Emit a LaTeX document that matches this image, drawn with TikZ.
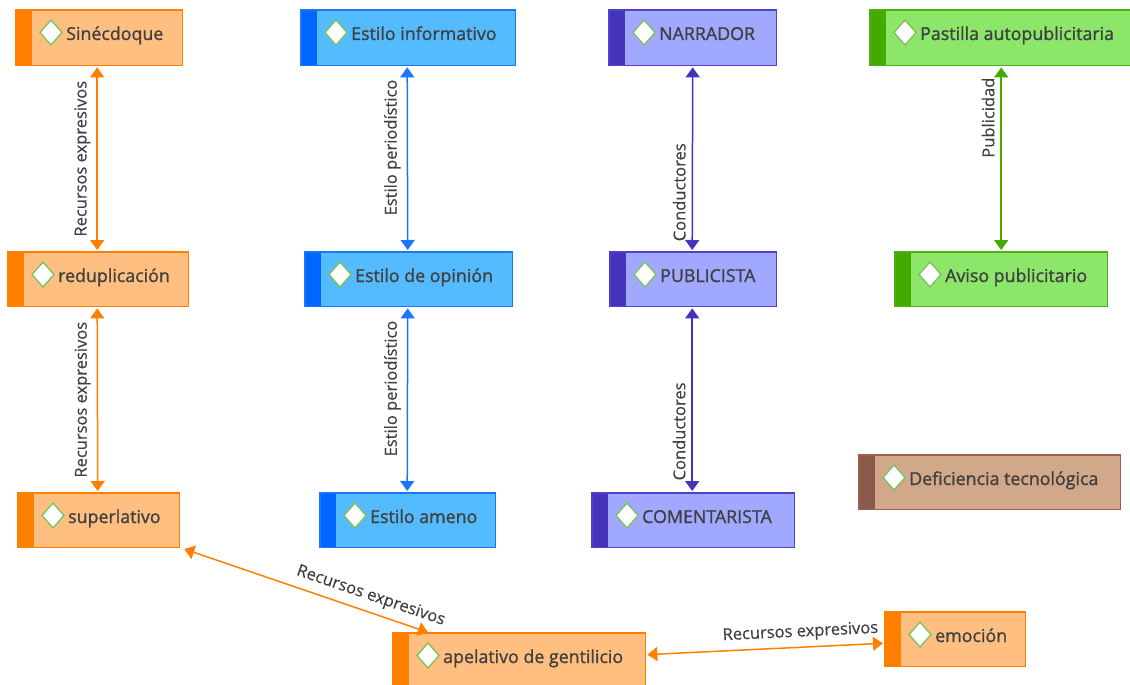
\documentclass[tikz,border=0pt]{standalone}
\usepackage{fontspec}
\setmainfont{Open Sans}
\newfontfamily\boxfont[FakeBold=1.2]{Open Sans}
\newfontfamily\lblfont[FakeBold=0.4]{Open Sans}
\usetikzlibrary{arrows.meta}
\definecolor{txt}{HTML}{404040}
\definecolor{oBar}{HTML}{FF7F00}
\definecolor{oFill}{HTML}{FFBF80}
\definecolor{bBar}{HTML}{0066FF}
\definecolor{bFill}{HTML}{55BBFF}
\definecolor{bLine}{HTML}{1A75FF}
\definecolor{pBar}{HTML}{4433BB}
\definecolor{pFill}{HTML}{A0A8FF}
\definecolor{pLine}{HTML}{5040CC}
\definecolor{gBar}{HTML}{44AA00}
\definecolor{gFill}{HTML}{8CE66A}
\definecolor{gLine}{HTML}{4CB010}
\definecolor{brBar}{HTML}{8C5A4A}
\definecolor{brFill}{HTML}{D2A88A}
\definecolor{brLine}{HTML}{9C6050}
\definecolor{dGreen}{HTML}{7CC05A}
\tikzset{
  conn/.style={line width=1.5pt, {Triangle[width=14pt,length=10pt]}-{Triangle[width=14pt,length=10pt]}, shorten <=2pt, shorten >=2pt},
  lbl/.style={font=\lblfont\fontsize{16.5}{18}\selectfont, text=txt, inner sep=3pt},
  vlbl/.style={lbl, rotate=90, anchor=south, inner sep=6pt},
}
% name, x1, y1, x2, y2, fill, bar, border, text
\newcommand\mybox[9]{%
  \node[fill=#6, minimum width={(#4-#2)*1pt}, minimum height={(#5-#3)*1pt}, anchor=north west, inner sep=0] (#1) at (#2,#3) {};
  \fill[#7] (#1.north west) rectangle ([xshift=16pt]#1.south west);
  \draw[#8, line width=1.2pt] (#1.north west) rectangle (#1.south east);
  \draw[fill=white, draw=dGreen, line width=1.3pt] ([xshift=35pt, yshift=-10pt]#1.north west) -- ++(11pt,-12.5pt) -- ++(-11pt,-12.5pt) -- ++(-11pt,12.5pt) -- cycle;
  \node[anchor=base west, text=txt, font=\boxfont\fontsize{17.8}{19}\selectfont, inner sep=0] (#1t) at ([xshift=50pt, yshift=-30pt]#1.north west) {#9};
}
\begin{document}
\begin{tikzpicture}[x=1pt, y=-1pt]
\useasboundingbox (0,0) rectangle (1130,685);
\mybox{sin}{16}{10}{182}{65}{oFill}{oBar}{oBar}{Sinécdoque}
\mybox{inf}{301}{10}{515}{65}{bFill}{bBar}{bLine}{Estilo informativo}
\mybox{nar}{609}{10}{776}{65}{pFill}{pBar}{pLine}{NARRADOR}
\mybox{pas}{870}{10}{1136}{65}{gFill}{gBar}{gLine}{Pastilla autopublicitaria}
\mybox{red}{8}{252}{188}{306}{oFill}{oBar}{oBar}{reduplicación}
\mybox{opi}{305}{252}{512}{306}{bFill}{bBar}{bLine}{Estilo de opinión}
\mybox{pub}{610}{252}{776}{306}{pFill}{pBar}{pLine}{PUBLICISTA}
\mybox{avi}{895}{252}{1107}{306}{gFill}{gBar}{gLine}{Aviso publicitario}
\mybox{sup}{18}{493}{179}{547}{oFill}{oBar}{oBar}{superlativo}
\mybox{ame}{320}{493}{495}{547}{bFill}{bBar}{bLine}{Estilo ameno}
\mybox{com}{592}{493}{794}{547}{pFill}{pBar}{pLine}{COMENTARISTA}
\mybox{def}{859}{455}{1120}{509}{brFill}{brBar}{brLine}{Deficiencia tecnológica}
\mybox{ape}{393}{633}{645}{692}{oFill}{oBar}{oBar}{apelativo de gentilicio}
\mybox{emo}{885}{612}{1025}{666}{oFill}{oBar}{oBar}{emoción}

\draw[conn, oBar] ([xshift=-2pt]sin.south) -- node[vlbl, pos=0.5] {Recursos expresivos} ([xshift=-1pt]red.north);
\draw[conn, oBar] ([xshift=-1pt]red.south) -- node[vlbl, pos=0.5] {Recursos expresivos} ([xshift=-1pt]sup.north);
\draw[conn, bLine] ([xshift=-1pt]inf.south) -- node[vlbl, pos=0.44] {Estilo periodístico} ([xshift=-1pt]opi.north);
\draw[conn, bLine] ([xshift=-1pt]opi.south) -- node[vlbl, pos=0.44] {Estilo periodístico} ([xshift=-0.5pt]ame.north);
\draw[conn, pBar] (nar.south) -- node[vlbl, pos=0.68] {Conductores} ([xshift=-1pt]pub.north);
\draw[conn, pBar] ([xshift=-1pt]pub.south) -- node[vlbl, pos=0.67] {Conductores} ([xshift=-1pt]com.north);
\draw[conn, gBar] ([xshift=-2pt]pas.south) -- node[vlbl, pos=0.28] {Publicidad} (avi.north);
\draw[conn, oBar] ([xshift=3pt, yshift=-1pt]sup.south east) -- node[lbl, sloped, above=4pt, pos=0.74] {Recursos expresivos} ([xshift=37pt]ape.north west);
\draw[conn, oBar] ([yshift=8pt]ape.east) -- node[lbl, sloped, above=3pt, pos=0.65] {Recursos expresivos} ([yshift=-4pt]emo.west);
\end{tikzpicture}
\end{document}
